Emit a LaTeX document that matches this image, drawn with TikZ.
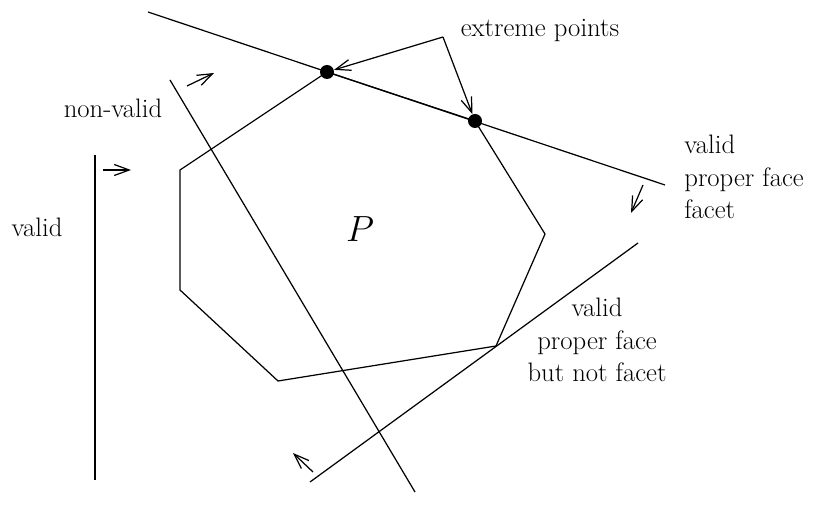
\documentclass[tikz,border=0pt]{standalone}
\usepackage{fontspec}
\usetikzlibrary{arrows.meta, positioning, calc}
\tikzset{
  edge/.style={line width=0.7pt, draw=black},
  vtx/.style={circle, fill=black, inner sep=0pt, minimum size=0.28cm},
  hint/.style={-{Straight Barb[length=3mm, width=2.2mm]}, line width=0.7pt},
  lbl/.style={font=\fontsize{15.2}{18.6}\selectfont, inner sep=0pt, align=center},
}
\begin{document}
\begin{tikzpicture}[x=0.02cm, y=-0.02cm]
  \useasboundingbox (0,0) rectangle (818,509);

  % polytope P
  \coordinate (p1) at (327,72);
  \coordinate (p2) at (475,121);
  \coordinate (p3) at (545,234);
  \coordinate (p4) at (496,346);
  \coordinate (p5) at (278,381);
  \coordinate (p6) at (180,290);
  \coordinate (p7) at (180,170);
  \draw[edge] (p1) -- (p2) -- (p3) -- (p4) -- (p5) -- (p6) -- (p7) -- cycle;
  \node[lbl, font=\huge] (P) at (360,229) {$P$};

  % supporting lines
  \coordinate (s1) at (148,12);
  \coordinate (s2) at (665,185);
  \draw[edge] (s1) -- (s2);
  \coordinate (n1) at (170,80);
  \coordinate (n2) at (415,492);
  \draw[edge] (n1) -- (n2);
  \coordinate (b1) at (310,482);
  \coordinate (b2) at (638,243);
  \draw[edge] (b1) -- (b2);
  \coordinate (w1) at (95,155);
  \coordinate (w2) at (95,480);
  \draw[edge] (w1) -- (w2);

  % extreme points
  \node[vtx] (v1) at (p1) {};
  \node[vtx] (v2) at (p2) {};
  \coordinate (ex) at (443,37);
  \draw[hint] (ex) -- (v1);
  \draw[hint] (ex) -- (v2);

  % half-space arrows
  \coordinate (h1) at (103,170);  \coordinate (h1e) at (131,170);
  \coordinate (h2) at (187,86);   \coordinate (h2e) at (214,73);
  \coordinate (h3) at (643,185);  \coordinate (h3e) at (631,213);
  \coordinate (h4) at (313,472);  \coordinate (h4e) at (293,453);
  \draw[hint] (h1) -- (h1e);
  \draw[hint] (h2) -- (h2e);
  \draw[hint] (h3) -- (h3e);
  \draw[hint] (h4) -- (h4e);

  % labels
  \node[lbl] (extreme) at (540,30) {extreme points};
  \node[lbl] (nonvalid) at (113,108) {non-valid};
  \node[lbl] (valid) at (37,227) {valid};
  \node[lbl, anchor=west, align=left] (facet) at (684,177) {valid\\proper face\\facet};
  \node[lbl] (face) at (597,340) {valid\\proper face\\but not facet};
\end{tikzpicture}
\end{document}
